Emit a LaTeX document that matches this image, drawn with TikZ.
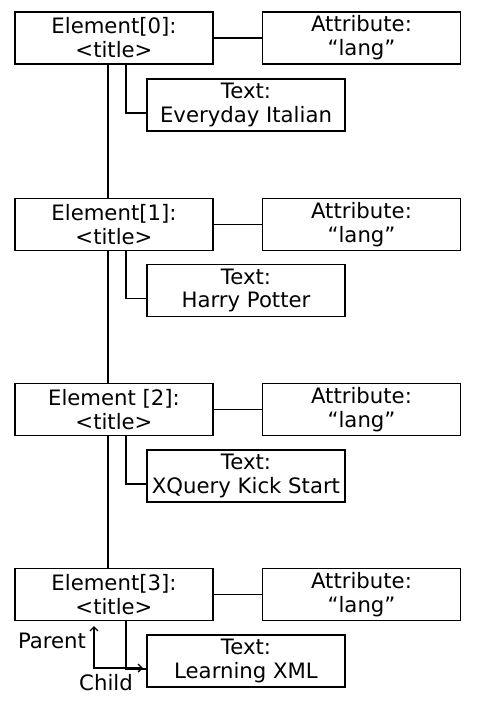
\documentclass[tikz,border=0pt]{standalone}
\usepackage{fontspec}
\setmainfont{DejaVu Sans}
\usetikzlibrary{arrows.meta}
\begin{document}
\begin{tikzpicture}[x=1bp,y=-1bp,
  box/.style={draw,line width=1.4bp,rectangle,minimum width=198bp,minimum height=52bp,inner sep=0pt,align=center,
    font=\fontsize{21.3}{24}\selectfont},
  link/.style={line width=1.4bp},
  lbl/.style={font=\fontsize{21.3}{24}\selectfont,inner sep=0pt}]
\useasboundingbox[fill=white] (0,0) rectangle (482,709);
% row 0
\node[box] (e0) at (114,38) {Element[0]:\\<title>};
\node[box] (a0) at (361.5,38) {Attribute:\\“lang”};
\node[box] (t0) at (246,105) {Text:\\Everyday Italian};
% row 1
\node[box] (e1) at (114,224.5) {Element[1]:\\<title>};
\node[box] (a1) at (361.5,224.5) {Attribute:\\“lang”};
\node[box] (t1) at (246,290.5) {Text:\\Harry Potter};
% row 2
\node[box] (e2) at (114,409.5) {Element [2]:\\<title>};
\node[box] (a2) at (361.5,409.5) {Attribute:\\“lang”};
\node[box] (t2) at (246,476) {Text:\\XQuery Kick Start};
% row 3
\node[box] (e3) at (114,594.5) {Element[3]:\\<title>};
\node[box] (a3) at (361.5,594.5) {Attribute:\\“lang”};
\node[box] (t3) at (246,661) {Text:\\Learning XML};
% connectors
\foreach \i in {0,1,2,3}{
  \draw[link] (e\i.east) -- (a\i.west);
  \draw[link] ([xshift=12bp]e\i.south) |- ([yshift=-8bp]t\i.west);
}
\foreach \i/\j in {0/1,1/2,2/3}{
  \draw[link] ([xshift=-6bp]e\i.south) -- ([xshift=-6bp]e\j.north);
}
% parent / child legend
\coordinate (ptop) at (94,626);
\coordinate (cend) at (143,668);
\draw[link,{Straight Barb[length=4bp,width=8bp]}-{Straight Barb[length=4bp,width=8bp]}] (ptop) |- (cend);
\node[lbl] (parent) at (52,641) {Parent};
\node[lbl] (child) at (106,683) {Child};
\end{tikzpicture}
\end{document}
